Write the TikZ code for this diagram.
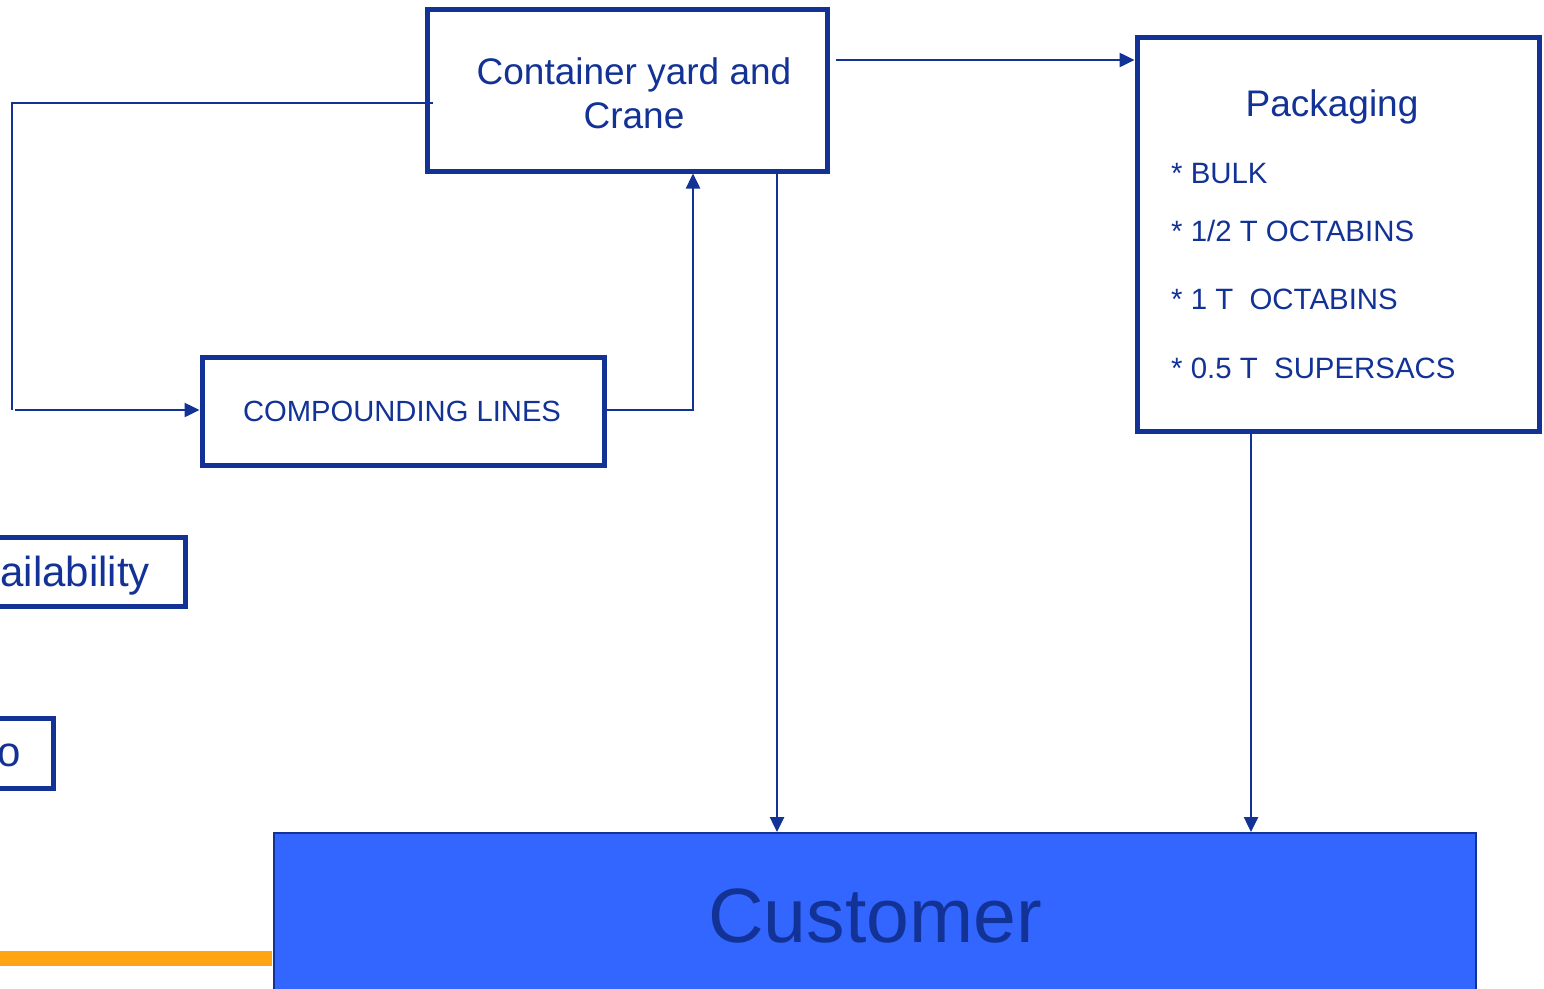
\documentclass[tikz,border=0pt]{standalone}
\usepackage{fontspec}
\setmainfont{Liberation Sans}
\usetikzlibrary{arrows.meta}
\definecolor{navy}{RGB}{18,50,150}
\definecolor{custblue}{RGB}{51,102,255}
\definecolor{orangebar}{RGB}{255,165,20}
\begin{document}
\begin{tikzpicture}[x=1pt,y=-1pt,
  boxst/.style={draw=navy,line width=5pt,inner sep=0pt,fill=white},
  txt/.style={text=navy,inner sep=0pt},
  conn/.style={draw=navy,line width=2.5pt},
  arr/.style={conn,-{Triangle[length=15pt,width=14pt]}}]
\useasboundingbox (0,0) rectangle (1544,988);
\clip (0,0) rectangle (1544,988);
% orange bar
\coordinate (ob) at (0,958.5);
% boxes
\node[boxst,minimum width=400pt,minimum height=162pt] (cy) at (627,90) {};
\node[boxst,minimum width=402pt,minimum height=394pt] (pk) at (1338,234) {};
\node[boxst,minimum width=402pt,minimum height=108pt] (comp) at (403,411) {};
\node[boxst,minimum width=260pt,minimum height=69pt,anchor=east] (av) at (187.5,571.5) {};
\node[boxst,minimum width=120pt,minimum height=70pt,anchor=east] (io) at (55.5,753) {};
\node[draw=navy,line width=2pt,fill=custblue,inner sep=0pt,minimum width=1202pt,minimum height=300pt,anchor=north] (cust) at (874.5,832) {};
\draw[orangebar,line width=15pt] (ob) -- ([xshift=-1pt]ob -| cust.west);
% texts
\node[txt,font=\fontsize{37}{44}\selectfont,anchor=base] (t1) at (634,84) {Container yard and};
\node[txt,font=\fontsize{37}{44}\selectfont,anchor=base] (t2) at (634,128) {Crane};
\node[txt,font=\fontsize{37}{44}\selectfont,anchor=base] (t3) at (1332,116) {Packaging};
\node[txt,font=\fontsize{29.4}{34}\selectfont,anchor=base west] (p1) at (1171,183) {* BULK};
\node[txt,font=\fontsize{29.4}{34}\selectfont,anchor=base west] (p2) at (1171,241) {* 1/2 T OCTABINS};
\node[txt,font=\fontsize{29.4}{34}\selectfont,anchor=base west] (p3) at (1171,309) {* 1 T\ \ OCTABINS};
\node[txt,font=\fontsize{29.4}{34}\selectfont,anchor=base west] (p4) at (1171,378) {* 0.5 T\ \ SUPERSACS};
\node[txt,font=\fontsize{29.2}{34}\selectfont,anchor=base] (t4) at (402,421.5) {COMPOUNDING LINES};
\node[txt,font=\fontsize{42}{50}\selectfont,anchor=base east] (t5) at (150,586) {ailability};
\node[txt,font=\fontsize{42}{50}\selectfont,anchor=base east] (t6) at (21,766) {o};
\node[txt,font=\fontsize{77}{90}\selectfont,anchor=base] (t7) at (875,942) {Customer};
% connectors
\coordinate (lc) at (12,410);
\draw[conn] ([xshift=8pt,yshift=-13pt]cy.west) -| (lc);
\draw[arr] ([xshift=3pt]lc) -- (lc -| comp.west);
\draw[arr] ([yshift=1pt]comp.east) -| ([xshift=66pt]cy.south);
\draw[arr] ([xshift=6pt,yshift=30pt]cy.east) -- ([yshift=30pt]cy.east -| pk.west);
\draw[arr] ([xshift=150pt]cy.south) -- ([xshift=150pt]cy.south |- cust.north);
\draw[arr] ([xshift=-87pt]pk.south) -- ([xshift=-87pt]pk.south |- cust.north);
\end{tikzpicture}
\end{document}
